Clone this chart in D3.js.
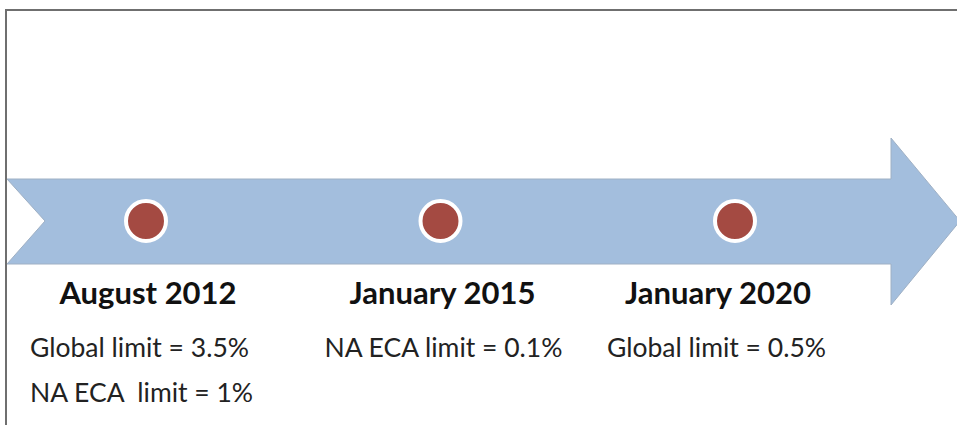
<!DOCTYPE html>
<html lang="en">
<head>
  <meta charset="UTF-8">
  <title>Sulphur limits timeline</title>
  <style>
    body {
      margin: 0;
      background: #fff;
    }

    svg {
      display: block;
      font-family: Lato, "Open Sans", sans-serif;
    }

    .frame {
      fill: none;
      stroke: #6f6f6f;
      stroke-width: 2px;
    }

    .arrow {
      fill: #a3bedd;
      stroke: #9fb0c4;
      stroke-width: 1px;
    }

    .dot {
      fill: #a44a42;
      stroke: #fff;
      stroke-width: 4px;
    }

    .heading {
      font-weight: bold;
      font-size: 31px;
      fill: #111;
    }

    .detail {
      font-size: 26.5px;
      fill: #222;
    }
  </style>
  <script src="https://d3js.org/d3.v7.min.js"></script>
</head>
<body>
  <div id="chart"></div>

  <script>
    // -----------------------------
    // Data
    // -----------------------------
    const milestones = ["August 2012", "January 2015", "January 2020"];
    const details = [
      ["Global limit = 3.5%", "NA ECA  limit = 1%"],
      ["NA ECA limit = 0.1%"],
      ["Global limit = 0.5%"]
    ];

    // -----------------------------
    // Setup
    // -----------------------------
    const width = 957;
    const height = 425;

    const svg = d3.select("#chart")
      .append("svg")
      .attr("width", width)
      .attr("height", height);

    // frame (top and left edge only show in the crop)
    svg.append("path")
      .attr("class", "frame")
      .attr("d", "M6,426 V10 H960");

    // timeline arrow
    const axisY = 221;
    const arrowPts = [
      [7, 179], [891, 179], [891, 138], [960, axisY], [891, 305],
      [891, 264], [7, 264], [45, axisY]
    ];
    svg.append("path")
      .attr("class", "arrow")
      .attr("d", d3.line()(arrowPts) + "Z");

    const x = d3.scalePoint()
      .domain(milestones)
      .range([146, 735]);

    // milestone dots
    svg.selectAll("circle.dot")
      .data(milestones)
      .join("circle")
      .attr("class", "dot")
      .attr("cx", d => x(d))
      .attr("cy", axisY)
      .attr("r", 20);

    // headings
    svg.selectAll("text.heading")
      .data(milestones)
      .join("text")
      .attr("class", "heading")
      .attr("x", (d, i) => x(d) + (i === 2 ? -17 : 2))
      .attr("y", 304)
      .attr("text-anchor", "middle")
      .text(d => d);

    // detail lines
    const groups = svg.selectAll("g.details")
      .data(milestones)
      .join("g")
      .attr("class", "details")
      .attr("transform", (d, i) => "translate(" + (x(d) - (i === 2 ? 128 : 116)) + ",0)");

    groups.selectAll("text")
      .data((d, i) => details[i])
      .join("text")
      .attr("class", "detail")
      .attr("x", 0)
      .attr("y", (d, j) => 357 + j * 45)
      .attr("xml:space", "preserve")
      .style("white-space", "pre")
      .text(d => d);
  </script>
</body>
</html>
